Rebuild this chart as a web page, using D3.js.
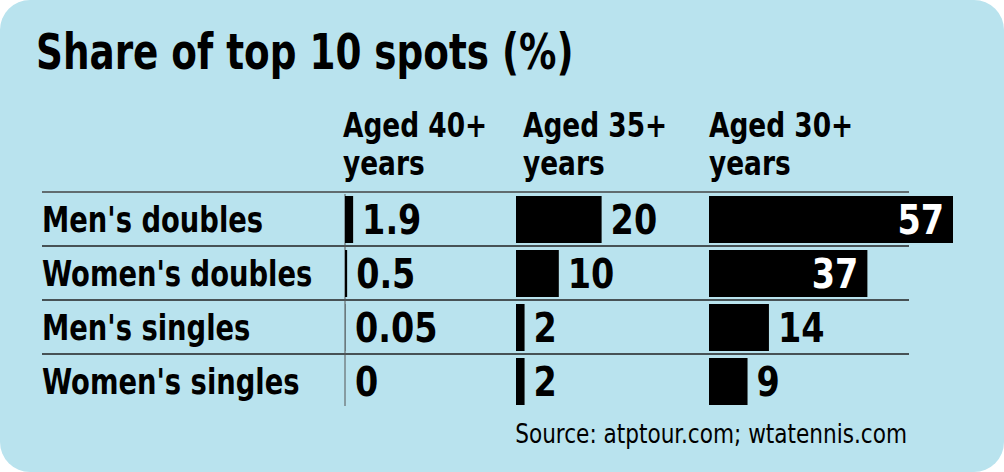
<html>
<head>
<meta charset="utf-8">
<title>Share of top 10 spots</title>
<script src="https://cdn.jsdelivr.net/npm/d3@7"></script>
<style>
  body { margin: 0; background: #fff; }
  text { font-family: "Liberation Sans Narrow", "DejaVu Sans Condensed", sans-serif; font-stretch: condensed; }
</style>
</head>
<body>
<div id="chart"></div>
<script>
// data
var categories = ["Men's doubles", "Women's doubles", "Men's singles", "Women's singles"];
var groupLines = [["Aged 40+", "years"], ["Aged 35+", "years"], ["Aged 30+", "years"]];
var aged40 = [1.9, 0.5, 0.05, 0];
var aged35 = [20, 10, 2, 2];
var aged30 = [57, 37, 14, 9];
var series = [aged40, aged35, aged30];

var width = 1004, height = 472;
var svg = d3.select("#chart").append("svg")
    .attr("width", width)
    .attr("height", height);

// narrow the available font around its anchor point
function squeeze(sel, k) {
    sel.attr("transform", function () {
        var x0 = +d3.select(this).attr("x");
        return "translate(" + x0 + ",0) scale(" + k + ",1) translate(" + (-x0) + ",0)";
    });
}

svg.append("rect")
    .attr("x", 0).attr("y", 0)
    .attr("width", width).attr("height", height)
    .attr("rx", 30).attr("ry", 30)
    .style("fill", "#b9e3ee");

svg.append("text")
    .attr("x", 36).attr("y", 69)
    .style("font-size", "50px").style("font-weight", "bold")
    .text("Share of top 10 spots (%)")
    .call(squeeze, 0.83);

// rows
var y = d3.scaleBand().domain(categories).range([192, 408]);
// bar length, same scale for every column
var x = d3.scaleLinear().domain([0, 57]).range([0, 244]);
var colX = [345, 516, 709];
var headX = [343, 523, 709];

// row separators
svg.selectAll(".sep")
    .data(categories.slice(1))
    .enter().append("line")
    .attr("class", "sep")
    .attr("x1", 42).attr("x2", 909)
    .attr("y1", function (d) { return y(d); })
    .attr("y2", function (d) { return y(d); })
    .style("stroke", "#222").style("stroke-width", 1.5);
svg.append("line")
    .attr("x1", 42).attr("x2", 909)
    .attr("y1", y.range()[0]).attr("y2", y.range()[0])
    .style("stroke", "#444").style("stroke-width", 1.5);

// row labels
svg.selectAll(".cat")
    .data(categories)
    .enter().append("text")
    .attr("class", "cat")
    .attr("x", 42)
    .attr("y", function (d) { return y(d) + y.bandwidth() / 2 + 13; })
    .style("font-size", "36px").style("font-weight", "bold")
    .text(function (d) { return d; })
    .call(squeeze, 0.845);

// column headers
groupLines.forEach(function (g, j) {
    var t = svg.append("text")
        .attr("x", headX[j]).attr("y", 137)
        .style("font-size", "33px").style("font-weight", "bold");
    t.selectAll("tspan").data(g).enter().append("tspan")
        .attr("x", headX[j])
        .attr("dy", function (d, i) { return i ? 38 : 0; })
        .text(function (d) { return d; });
    t.call(squeeze, 0.89);
});

// thin base line of the first column
svg.append("line")
    .attr("x1", colX[0]).attr("x2", colX[0])
    .attr("y1", y.range()[0] + 2).attr("y2", y.range()[1] - 2)
    .style("stroke", "#555").style("stroke-width", 1);

series.forEach(function (vals, j) {
    var g = svg.append("g").attr("transform", "translate(" + colX[j] + ",0)");
    g.selectAll("rect")
        .data(vals)
        .enter().append("rect")
        .attr("x", 0)
        .attr("y", function (d, i) { return y(categories[i]) + 4; })
        .attr("width", function (d) { return x(d); })
        .attr("height", y.bandwidth() - 7)
        .style("fill", "#000");
    g.selectAll("text")
        .data(vals)
        .enter().append("text")
        .attr("x", function (d) {
            var w = x(d);
            return w > 120 ? w - 9 : Math.max(w, 1) + 9;
        })
        .attr("y", function (d, i) { return y(categories[i]) + y.bandwidth() / 2 + 15; })
        .attr("text-anchor", function (d) { return x(d) > 120 ? "end" : "start"; })
        .style("font-size", "40px").style("font-weight", "bold")
        .style("fill", function (d) { return x(d) > 120 ? "#fff" : "#000"; })
        .text(function (d) { return d; })
        .call(squeeze, 0.93);
});

svg.append("text")
    .attr("x", 907).attr("y", 443)
    .attr("text-anchor", "end")
    .style("font-size", "27px")
    .text("Source: atptour.com; wtatennis.com")
    .call(squeeze, 0.89);
</script>
</body>
</html>
